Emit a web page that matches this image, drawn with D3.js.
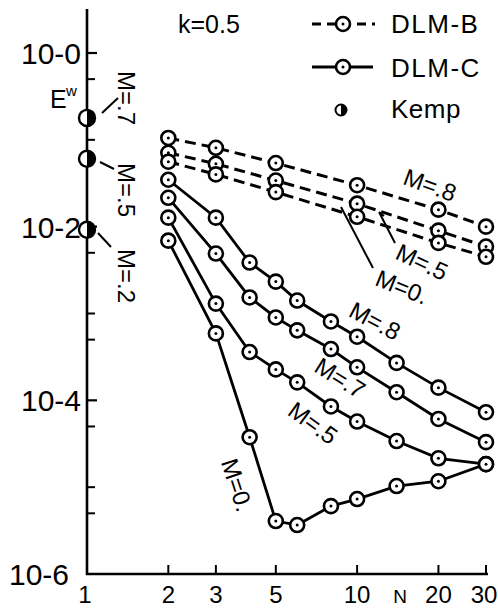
<!DOCTYPE html>
<html><head><meta charset="utf-8">
<script src="https://cdn.jsdelivr.net/npm/d3@7"></script>
<style>
body{margin:0;background:#fff}
svg{display:block}
text{font-family:"Liberation Sans",Arial,sans-serif;fill:#000}
</style>
</head><body>
<svg id="chart" width="498" height="610"></svg>
<script>
// ---------- data ----------
const yMajorTicks = [1, 1e-2, 1e-4, 1e-6];
const yTickLabels = ["10-0", "10-2", "10-4", "10-6"];
const yMinorTicks = [0.5, 0.1, 5e-3, 1e-3, 5e-4, 5e-5, 1e-5, 5e-6];
const xTicks = [1, 2, 3, 5, 10, 20, 30];
const xTickLabels = ["1", "2", "3", "5", "10", "20", "30"];

const nB = [2, 3, 5, 10, 20, 30];
const dlmB_M08 = [0.105, 0.081, 0.054, 0.030, 0.0157, 0.010];
const dlmB_M05 = [0.071, 0.053, 0.034, 0.0184, 0.0090, 0.0059];
const dlmB_M00 = [0.056, 0.040, 0.025, 0.013, 0.0065, 0.0045];

const nC = [2, 3, 4, 5, 6, 8, 10, 14, 20, 30];
const dlmC_M08 = [0.0347, 0.0127, 0.00386, 0.00233, 0.00141, 8.1e-4, 5.4e-4, 2.7e-4, 1.4e-4, 7.3e-5];
const dlmC_M07 = [0.0215, 0.0049, 0.00153, 9.0e-4, 6.4e-4, 3.9e-4, 2.4e-4, 1.24e-4, 6.1e-5, 3.3e-5];
const dlmC_M05 = [0.0127, 0.0013, 3.6e-4, 2.27e-4, 1.61e-4, 8.5e-5, 5.7e-5, 3.4e-5, 2.15e-5, 1.84e-5];
const dlmC_M00 = [0.0069, 5.9e-4, 3.76e-5, 4.07e-6, 3.66e-6, 6.05e-6, 7.3e-6, 1.03e-5, 1.17e-5, 1.84e-5];

const kempN = 1;
const kempLabels = ["M=.7", "M=.5", "M=.2"];
const kempValues = [0.179, 0.0605, 0.0092];

const seriesNames = ["DLM-B", "DLM-C", "Kemp"];

// ---------- setup ----------
const svg = d3.select("#chart");
const x = d3.scaleLog().domain([1, 30]).range([87, 486]);
const y = d3.scaleLog().domain([1e-6, 1]).range([574, 53]);
const yTop = 9;

const g = svg.append("g");
const line = d3.line().x(d => x(d[0])).y(d => y(d[1]));

// axes
g.append("line").attr("x1", x(1)).attr("x2", x(1)).attr("y1", yTop).attr("y2", y(1e-6) + 1)
  .attr("stroke", "#000").attr("stroke-width", 2.6);
g.append("line").attr("x1", x(1) - 1).attr("x2", x(30) + 2).attr("y1", y(1e-6)).attr("y2", y(1e-6))
  .attr("stroke", "#000").attr("stroke-width", 2.6);

g.selectAll(".ymaj").data(yMajorTicks.slice(0, 3)).join("line")
  .attr("x1", x(1)).attr("x2", x(1) + 10).attr("y1", d => y(d)).attr("y2", d => y(d))
  .attr("stroke", "#000").attr("stroke-width", 2.2);
g.selectAll(".ymin").data(yMinorTicks).join("line")
  .attr("x1", x(1)).attr("x2", x(1) + 8).attr("y1", d => y(d)).attr("y2", d => y(d))
  .attr("stroke", "#000").attr("stroke-width", 2);
g.selectAll(".xt").data(xTicks.slice(1)).join("line")
  .attr("x1", d => x(d)).attr("x2", d => x(d)).attr("y1", y(1e-6)).attr("y2", y(1e-6) - 9)
  .attr("stroke", "#000").attr("stroke-width", 2);

g.selectAll(".ylab").data(yMajorTicks).join("text")
  .attr("x", (d, i) => i === 3 ? 69 : 81)
  .attr("y", d => y(d) + 11)
  .attr("text-anchor", "end").attr("font-size", 30)
  .text((d, i) => yTickLabels[i]);

g.selectAll(".xlab").data(xTicks).join("text")
  .attr("x", (d, i) => i === 0 ? x(d) - 2 : (i === xTicks.length - 1 ? x(d) - 2 : x(d)))
  .attr("y", 603)
  .attr("text-anchor", "middle").attr("font-size", 24)
  .text((d, i) => xTickLabels[i]);

// axis titles
g.append("text").attr("x", 50).attr("y", 108).attr("font-size", 25).text("E");
g.append("text").attr("x", 66).attr("y", 96).attr("font-size", 15).text("w");
g.append("text").attr("x", 400).attr("y", 603).attr("text-anchor", "middle").attr("font-size", 19).text("N");
g.append("text").attr("x", 178).attr("y", 33).attr("font-size", 25).text("k=0.5");

// ---------- series ----------
const dashed = [dlmB_M08, dlmB_M05, dlmB_M00];
const solid = [dlmC_M08, dlmC_M07, dlmC_M05, dlmC_M00];

dashed.forEach(vals => {
  const pts = nB.map((n, i) => [n, vals[i]]);
  g.append("path").attr("d", line(pts)).attr("fill", "none").attr("stroke", "#000")
    .attr("stroke-width", 3).attr("stroke-dasharray", "11,6");
});
solid.forEach(vals => {
  const pts = nC.map((n, i) => [n, vals[i]]);
  g.append("path").attr("d", line(pts)).attr("fill", "none").attr("stroke", "#000")
    .attr("stroke-width", 2.8);
});

function ring(sel, cx, cy) {
  sel.append("circle").attr("cx", cx).attr("cy", cy).attr("r", 7)
    .attr("fill", "#fff").attr("stroke", "#000").attr("stroke-width", 2.6);
  sel.append("circle").attr("cx", cx).attr("cy", cy).attr("r", 1.5).attr("fill", "#000");
}
dashed.forEach(vals => nB.forEach((n, i) => ring(g, x(n), y(vals[i]))));
solid.forEach(vals => nC.forEach((n, i) => ring(g, x(n), y(vals[i]))));

function halfMarker(sel, cx, cy, r, sw) {
  sel.append("circle").attr("cx", cx).attr("cy", cy).attr("r", r)
    .attr("fill", "#fff").attr("stroke", "#000").attr("stroke-width", sw);
  sel.append("path")
    .attr("d", `M${cx},${cy - r} A${r},${r} 0 0 1 ${cx},${cy + r} Z`)
    .attr("fill", "#000");
}

// Kemp points with leaders and vertical labels
const kempLabelPos = [[126, 98], [126, 190], [126, 276]];
const kempLeaders = [[[102, 113], [118, 98]], [[100, 162], [114, 169]], [[98, 233], [111, 247]]];
kempValues.forEach((v, i) => {
  g.append("line").attr("x1", kempLeaders[i][0][0]).attr("y1", kempLeaders[i][0][1])
    .attr("x2", kempLeaders[i][1][0]).attr("y2", kempLeaders[i][1][1])
    .attr("stroke", "#000").attr("stroke-width", 2);
  halfMarker(g, x(kempN), y(v), 8, 2.4);
  g.append("text").attr("transform", `translate(${kempLabelPos[i][0]},${kempLabelPos[i][1]}) rotate(90)`)
    .attr("text-anchor", "middle").attr("dy", "0.35em").attr("font-size", 24).text(kempLabels[i]);
});

// curve labels
const curveLabels = [
  {t: "M=.8", x: 430, y: 185, a: 20},
  {t: "M=.5", x: 422, y: 262, a: 25},
  {t: "M=0.", x: 402, y: 287, a: 22},
  {t: "M=.8", x: 375, y: 321, a: 28},
  {t: "M=.7", x: 340, y: 378, a: 32},
  {t: "M=.5", x: 313, y: 423, a: 36},
  {t: "M=0.", x: 237, y: 485, a: 72}
];
curveLabels.forEach(c => {
  g.append("text").attr("transform", `translate(${c.x},${c.y}) rotate(${c.a})`)
    .attr("text-anchor", "middle").attr("dy", "0.35em").attr("font-size", 24).text(c.t);
});
// leaders for DLM-B labels
g.append("path").attr("d", "M379,212 L384,216 M379,212 L395,243").attr("fill", "none")
  .attr("stroke", "#000").attr("stroke-width", 2);
g.append("line").attr("x1", 341).attr("y1", 207).attr("x2", 373).attr("y2", 268)
  .attr("stroke", "#000").attr("stroke-width", 2);

// ---------- legend ----------
const lg = svg.append("g");
lg.append("line").attr("x1", 312).attr("x2", 375).attr("y1", 24).attr("y2", 24)
  .attr("stroke", "#000").attr("stroke-width", 3).attr("stroke-dasharray", "9,6");
ring(lg, 343, 24);
lg.append("line").attr("x1", 312).attr("x2", 373).attr("y1", 67).attr("y2", 67)
  .attr("stroke", "#000").attr("stroke-width", 3);
ring(lg, 343, 67);
halfMarker(lg, 341, 110, 5.5, 2);
[33, 77, 118].forEach((yy, i) => {
  lg.append("text").attr("x", 391).attr("y", yy).attr("font-size", 26)
    .attr("letter-spacing", i < 2 ? 1.5 : 0.5).text(seriesNames[i]);
});
</script>
</body></html>
